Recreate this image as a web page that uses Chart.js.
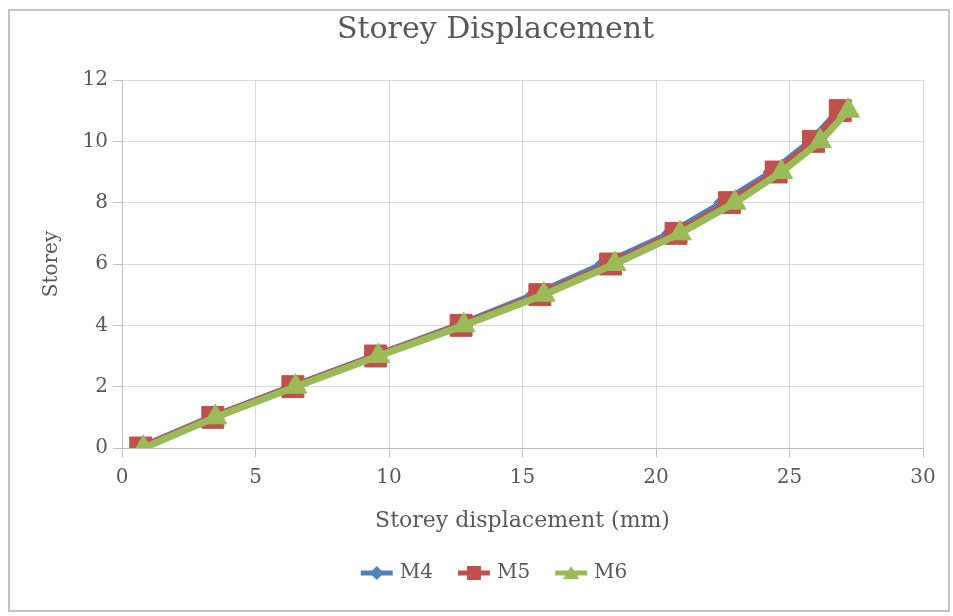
<!DOCTYPE html>
<html>
<head>
<meta charset="utf-8">
<script src="https://cdn.jsdelivr.net/npm/chart.js@4"></script>
<style>
  html, body { margin: 0; padding: 0; background: #fff; }
  #wrap { position: relative; width: 953px; height: 616px; }
  #frame {
    position: absolute; left: 8px; top: 9px; width: 942px; height: 603px;
    box-sizing: border-box; border: 2px solid #c4c4c4; pointer-events: none;
  }
</style>
</head>
<body>
<div id="wrap">
  <canvas id="chart" width="953" height="616"></canvas>
  <div id="frame"></div>
</div>
<script>
// Storey numbers (y) and displacement in mm (x) for each model
const storeys = [0, 1, 2, 3, 4, 5, 6, 7, 8, 9, 10, 11];
const m4 = [0.65, 3.35, 6.35, 9.45, 12.6, 15.45, 18.05, 20.55, 22.5, 24.35, 25.8, 26.85];
const m5 = [0.7, 3.4, 6.4, 9.5, 12.7, 15.65, 18.3, 20.75, 22.75, 24.5, 25.9, 26.9];
const m6 = [0.8, 3.5, 6.5, 9.6, 12.8, 15.8, 18.45, 20.9, 22.95, 24.7, 26.15, 27.2];
const seriesNames = ['M4', 'M5', 'M6'];
const xTicks = [0, 5, 10, 15, 20, 25, 30];
const yTicks = [0, 2, 4, 6, 8, 10, 12];

const textColor = '#595959';
const serif = "'DejaVu Serif', 'Liberation Serif', serif";

function toPoints(xs) {
  return xs.map((x, i) => ({ x: x, y: storeys[i] }));
}

// small excel-like legend key: line with marker in the middle
function legendIcon(color, shape) {
  const c = document.createElement('canvas');
  c.width = 34;
  c.height = 20;
  const g = c.getContext('2d');
  g.strokeStyle = color;
  g.lineWidth = 5;
  g.beginPath();
  g.moveTo(1, 10);
  g.lineTo(33, 10);
  g.stroke();
  g.fillStyle = color;
  g.beginPath();
  if (shape === 'diamond') {
    g.moveTo(17, 3); g.lineTo(24, 10); g.lineTo(17, 17); g.lineTo(10, 10);
  } else if (shape === 'square') {
    g.rect(10, 3, 14, 14);
  } else {
    g.moveTo(17, 3); g.lineTo(25, 16); g.lineTo(9, 16);
  }
  g.closePath();
  g.fill();
  return c;
}

const colors = ['#4F81BD', '#C0504D', '#9BBB59'];
const icons = [
  legendIcon(colors[0], 'diamond'),
  legendIcon(colors[1], 'square'),
  legendIcon(colors[2], 'triangle')
];

const ctx = document.getElementById('chart');

new Chart(ctx, {
  type: 'scatter',
  data: {
    datasets: [
      {
        label: seriesNames[0],
        data: toPoints(m4),
        showLine: true,
        borderColor: colors[0],
        backgroundColor: colors[0],
        borderWidth: 7,
        pointStyle: 'rectRot',
        pointRadius: 9,
        pointBorderWidth: 1,
        order: 2
      },
      {
        label: seriesNames[1],
        data: toPoints(m5),
        showLine: true,
        borderColor: colors[1],
        backgroundColor: colors[1],
        borderWidth: 7,
        pointStyle: 'rect',
        pointRadius: 15.5,
        pointBorderWidth: 1,
        order: 1
      },
      {
        label: seriesNames[2],
        data: toPoints(m6),
        showLine: true,
        borderColor: colors[2],
        backgroundColor: colors[2],
        borderWidth: 7,
        pointStyle: 'triangle',
        pointRadius: 13,
        pointBorderWidth: 1,
        order: 0
      }
    ]
  },
  options: {
    responsive: false,
    animation: false,
    events: [],
    layout: {
      padding: { top: 8, left: 68, right: 30, bottom: 23 }
    },
    plugins: {
      title: {
        display: true,
        text: 'Storey Displacement',
        color: textColor,
        font: { family: serif, size: 30, weight: 'normal' },
        padding: { top: 4, bottom: 32 }
      },
      legend: {
        position: 'bottom',
        labels: {
          usePointStyle: true,
          pointStyleWidth: 26,
          boxHeight: 20,
          padding: 28,
          color: textColor,
          font: { family: serif, size: 20 },
          generateLabels: function(chart) {
            return chart.data.datasets.map((ds, i) => ({
              text: ds.label,
              fillStyle: colors[i],
              strokeStyle: colors[i],
              lineWidth: 0,
              pointStyle: icons[i],
              fontColor: textColor,
              hidden: false,
              datasetIndex: i
            }));
          }
        }
      },
      tooltip: { enabled: false }
    },
    scales: {
      x: {
        type: 'linear',
        min: xTicks[0],
        max: xTicks[xTicks.length - 1],
        afterBuildTicks: function(scale) {
          scale.ticks = xTicks.map(v => ({ value: v }));
        },
        afterFit: function(scale) {
          scale.height = 87;
        },
        grid: { color: '#d9d9d9', tickColor: '#bfbfbf', tickLength: 9 },
        border: { color: '#bfbfbf' },
        ticks: {
          color: textColor,
          padding: 9,
          font: { family: serif, size: 20 }
        },
        title: {
          display: true,
          text: 'Storey displacement (mm)',
          color: textColor,
          font: { family: serif, size: 22 },
          padding: { top: 0, bottom: 1 }
        }
      },
      y: {
        type: 'linear',
        min: yTicks[0],
        max: yTicks[yTicks.length - 1],
        afterBuildTicks: function(scale) {
          scale.ticks = yTicks.map(v => ({ value: v }));
        },
        afterFit: function(scale) {
          scale.width = 54;
        },
        grid: { color: '#d9d9d9', tickColor: '#bfbfbf', tickLength: 9 },
        border: { color: '#bfbfbf' },
        ticks: {
          color: textColor,
          padding: 5,
          font: { family: serif, size: 20 }
        },
        title: {
          display: true,
          text: 'Storey',
          color: textColor,
          font: { family: serif, size: 20 },
          padding: { top: -28, bottom: 0 }
        }
      }
    }
  }
});
</script>
</body>
</html>
